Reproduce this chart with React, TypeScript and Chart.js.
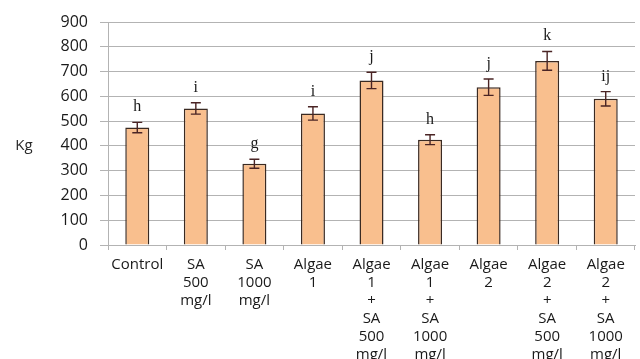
import React, { useEffect, useRef } from "react";
import { Chart, registerables } from "chart.js";

Chart.register(...registerables);

const categories: string[][] = [
  ["Control"],
  ["SA", "500", "mg/l"],
  ["SA", "1000", "mg/l"],
  ["Algae", "1"],
  ["Algae", "1", "+", "SA", "500", "mg/l"],
  ["Algae", "1", "+", "SA", "1000", "mg/l"],
  ["Algae", "2"],
  ["Algae", "2", "+", "SA", "500", "mg/l"],
  ["Algae", "2", "+", "SA", "1000", "mg/l"],
];
const means: number[] = [474, 551, 328, 531, 664, 425, 637, 743, 590];
const errors: number[] = [21, 23, 18, 27, 33, 20, 33, 38, 29];
const letters: string[] = ["h", "i", "g", "i", "j", "h", "j", "k", "ij"];
const yTicksMax = 900;
const yStep = 100;
const yAxisTitle = "Kg";

const errorBarPlugin = {
  id: "errorBars",
  afterDatasetsDraw(chart: any) {
    const ctx = chart.ctx;
    const meta = chart.getDatasetMeta(0);
    const y = chart.scales.y;
    ctx.save();
    meta.data.forEach((bar: any, i: number) => {
      const x = bar.x;
      const top = y.getPixelForValue(means[i] + errors[i]);
      const bot = y.getPixelForValue(means[i] - errors[i]);
      ctx.strokeStyle = "#4a2424";
      ctx.lineWidth = 1.4;
      ctx.beginPath();
      ctx.moveTo(x, top);
      ctx.lineTo(x, bot);
      ctx.moveTo(x - 5, top);
      ctx.lineTo(x + 5, top);
      ctx.moveTo(x - 5, bot);
      ctx.lineTo(x + 5, bot);
      ctx.stroke();
      ctx.fillStyle = "#1a1a1a";
      ctx.font = "16px 'Liberation Serif', serif";
      ctx.textAlign = "center";
      ctx.textBaseline = "alphabetic";
      ctx.fillText(letters[i], x, top - 11);
    });
    const area = chart.chartArea;
    ctx.fillStyle = "#2a2a2a";
    ctx.font = "15px 'Open Sans', sans-serif";
    ctx.textAlign = "center";
    ctx.textBaseline = "middle";
    ctx.fillText(yAxisTitle, 24, (area.top + area.bottom) / 2 + 12);
    ctx.restore();
  },
};

export default function App() {
  const ref = useRef<HTMLCanvasElement | null>(null);
  useEffect(() => {
    document.body.style.margin = "0";
    if (!ref.current) return;
    const chart = new Chart(ref.current, {
      type: "bar",
      data: {
        labels: categories,
        datasets: [
          {
            data: means,
            backgroundColor: "#f9bf8e",
            borderColor: "#3a2a22",
            borderWidth: 1.5,
            barPercentage: 0.41,
            categoryPercentage: 1,
          },
        ],
      },
      options: {
        animation: false,
        responsive: false,
        maintainAspectRatio: false,
        layout: { padding: { top: 22, right: 5, left: 0, bottom: 0 } },
        plugins: {
          legend: { display: false },
          tooltip: { enabled: false },
        },
        scales: {
          x: {
            grid: {
              offset: true,
              drawOnChartArea: false,
              tickLength: 5,
              color: "#b3b3b3",
            },
            border: { color: "#b3b3b3" },
            ticks: {
              autoSkip: false,
              maxRotation: 0,
              padding: 6,
              color: "#1a1a1a",
              font: { family: "'Open Sans', sans-serif", size: 15, lineHeight: "18px" },
            },
            afterFit: (s: any) => {
              s.height = 114;
            },
          },
          y: {
            min: 0,
            max: yTicksMax,
            ticks: {
              stepSize: yStep,
              padding: 12,
              color: "#1a1a1a",
              font: { family: "'Open Sans', sans-serif", size: 16 },
            },
            grid: { color: "#b3b3b3", tickLength: 8 },
            border: { color: "#b3b3b3" },
            afterFit: (s: any) => {
              s.width = 108;
            },
          },
        },
      },
      plugins: [errorBarPlugin],
    });
    return () => chart.destroy();
  }, []);
  return (
    <div style={{ width: 640, height: 359, background: "#fff" }}>
      <canvas ref={ref} width={640} height={359} />
    </div>
  );
}
